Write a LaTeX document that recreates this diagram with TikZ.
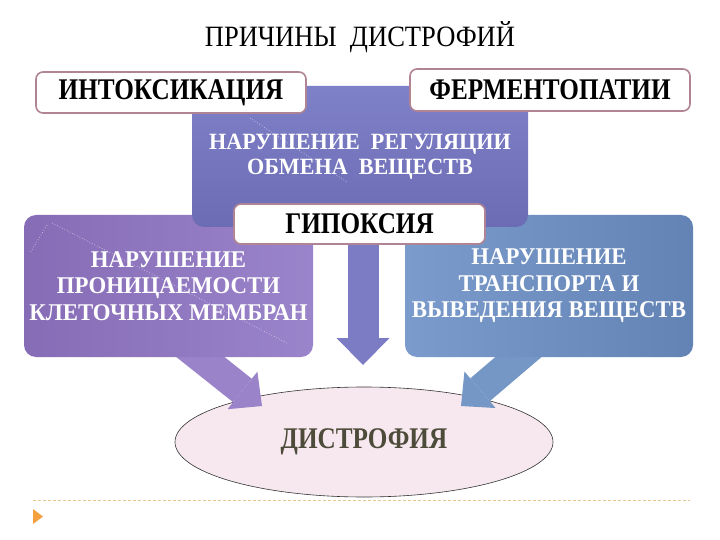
\documentclass[tikz,border=0pt]{standalone}
\usepackage{fontspec}
\setmainfont{Liberation Serif}
\newfontfamily\titlefont[FakeStretch=0.9]{Liberation Serif}
\newfontfamily\labelfont[FakeStretch=0.84]{Liberation Serif Bold}
\newfontfamily\boxfont[FakeStretch=0.95]{Liberation Serif Bold}
\usetikzlibrary{shapes.geometric,arrows.meta,backgrounds}

\definecolor{regtop}{HTML}{7E80C8}
\definecolor{regbot}{HTML}{6C6CB4}
\definecolor{permleft}{HTML}{866CB6}
\definecolor{permright}{HTML}{9A84CA}
\definecolor{transleft}{HTML}{7A9BCB}
\definecolor{transright}{HTML}{6383B5}
\definecolor{larrow}{HTML}{9A83C9}
\definecolor{rarrow}{HTML}{7597C6}
\definecolor{carrow}{HTML}{7C7CC4}
\definecolor{labelframe}{HTML}{B08494}
\definecolor{dystrfill}{HTML}{F6E8EE}
\definecolor{dystrtext}{HTML}{4D4B3A}
\definecolor{footline}{HTML}{E6C88E}
\definecolor{footmark}{HTML}{F4A040}

\tikzset{
  labelbox/.style={draw=labelframe, line width=1.6pt, fill=white, rounded corners=7pt,
    inner sep=0pt, text=black, font=\labelfont\fontsize{30}{30}\selectfont},
  causebox/.style={rounded corners=12pt, inner sep=0pt, text=white, align=center,
    font=\boxfont\fontsize{24}{26.5}\selectfont},
  bigarrow/.style={line width=30pt, -{Triangle[length=25pt,width=48pt,line width=0pt]}},
  decodots/.style={white, dotted, line width=0.8pt, opacity=0.5}
}

\begin{document}
\begin{tikzpicture}[x=1pt, y=-1pt]
    \useasboundingbox (0,0) rectangle (720,540);

    % заголовок
    \node[anchor=base, font=\titlefont\fontsize{29.5}{29.5}\selectfont] (title) at (360,47) {ПРИЧИНЫ\ \ ДИСТРОФИЙ};

    % боковые блоки
    \node[causebox, left color=permleft, right color=permright,
          minimum width=289pt, minimum height=142pt] (perm) at (168.5,286)
          {НАРУШЕНИЕ\\ПРОНИЦАЕМОСТИ\\КЛЕТОЧНЫХ МЕМБРАН};
    \node[causebox, left color=transleft, right color=transright,
          minimum width=288pt, minimum height=142pt] (trans) at (549,286)
          {НАРУШЕНИЕ\\ТРАНСПОРТА И\\ВЫВЕДЕНИЯ ВЕЩЕСТВ};

    % центральный блок
    \node[causebox, top color=regtop, bottom color=regbot,
          font=\boxfont\fontsize{23.3}{25}\selectfont,
          minimum width=336pt, minimum height=141pt] (regul) at (360,156.5)
          {НАРУШЕНИЕ\ \ РЕГУЛЯЦИИ\\ОБМЕНА\ \ ВЕЩЕСТВ};

    % пунктирные следы
    \draw[decodots] (250,118) -- (347,182);
    \draw[decodots] (52,223) -- (287,343);
    \draw[decodots] (47,225) -- (30,253);

    % причины в рамках
    \node[labelbox, minimum width=270pt, minimum height=41pt] (intox) at (171,92.5) {ИНТОКСИКАЦИЯ};
    \node[labelbox, minimum width=280pt, minimum height=42pt] (ferm) at (550,90) {ФЕРМЕНТОПАТИИ};
    \node[labelbox, minimum width=251pt, minimum height=40pt] (hypox) at (359.5,224) {ГИПОКСИЯ};

    % итог и стрелки
    \coordinate (ltip) at (262,406);
    \coordinate (rtip) at (461,406);
    \coordinate (ctip) at (363,365);
    \begin{scope}[on background layer]
      \node[ellipse, draw=black!80, line width=0.6pt, fill=dystrfill,
            minimum width=378pt, minimum height=110pt, text=dystrtext,
            font=\labelfont\fontsize{30}{30}\selectfont] (dystr) at (364,442) {ДИСТРОФИЯ};
      \draw[bigarrow, larrow] ([xshift=12pt,yshift=16pt]perm.south) -- (ltip);
      \draw[bigarrow, rarrow] ([xshift=-12pt,yshift=16pt]trans.south) -- (rtip);
      \draw[bigarrow, carrow, line width=31pt, -{Triangle[length=27pt,width=53pt,line width=0pt]}]
            (hypox.south -| ctip) -- (ctip);
    \end{scope}

    % нижняя линия
    \draw[footline, dashed, dash pattern=on 3pt off 2pt, line width=0.8pt] (33,500) -- (690,500);
    \fill[footmark] (33,509) -- (43,516.5) -- (33,524) -- cycle;
\end{tikzpicture}
\end{document}
